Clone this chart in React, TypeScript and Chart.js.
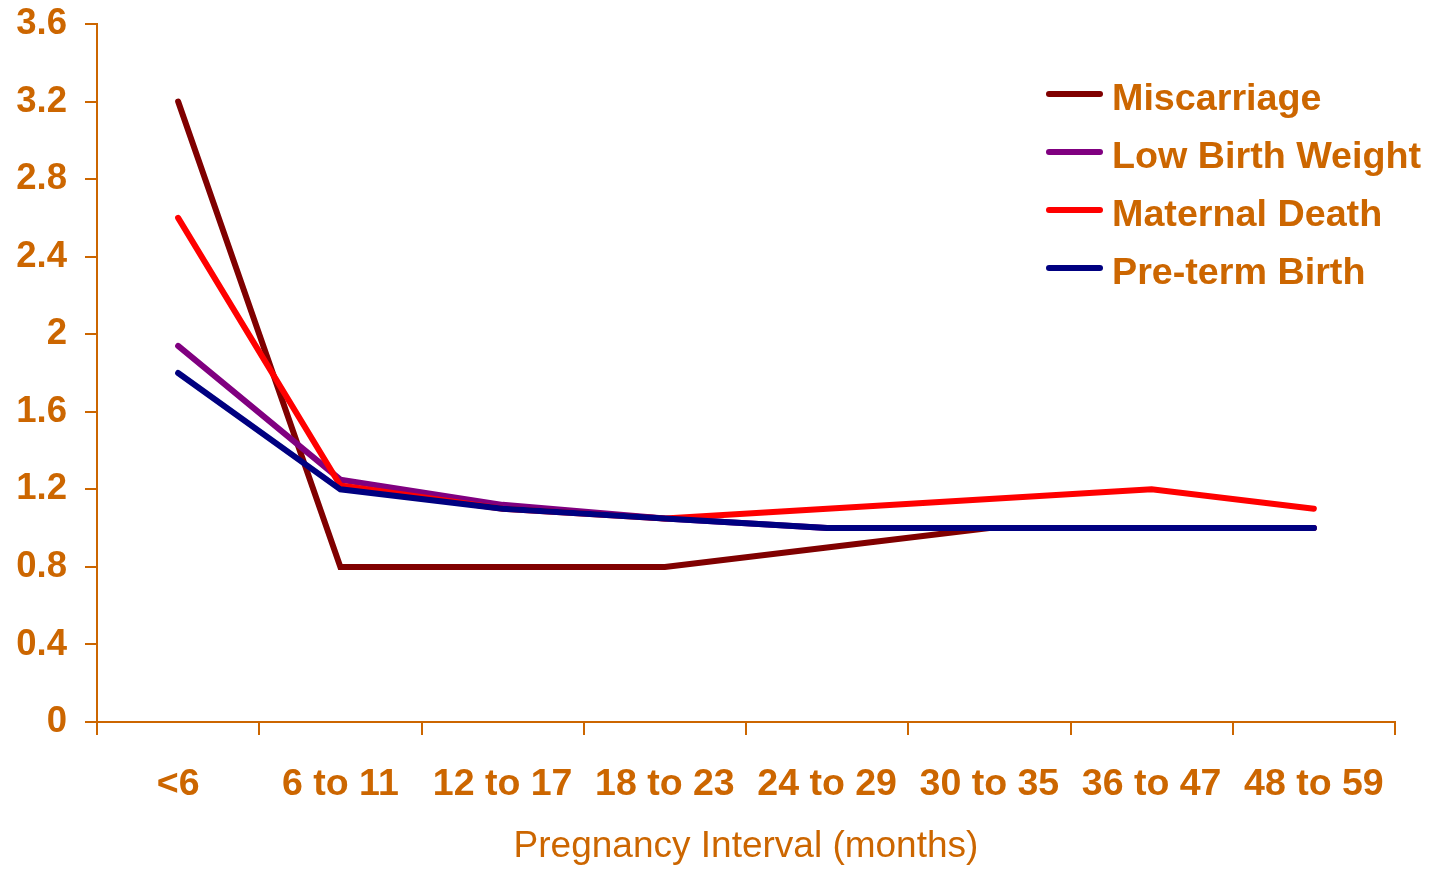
import React, { useEffect, useRef } from "react";
import { Chart, registerables } from "chart.js";

Chart.register(...registerables);

const categories = ["<6", "6 to 11", "12 to 17", "18 to 23", "24 to 29", "30 to 35", "36 to 47", "48 to 59"];
const miscarriage = [3.2, 0.8, 0.8, 0.8, 0.9, 1.0, 1.0, 1.0];
const lowBirthWeight = [1.94, 1.25, 1.12, 1.05, 1.0, 1.0, 1.0, 1.0];
const maternalDeath = [2.6, 1.22, 1.1, 1.05, 1.1, 1.15, 1.2, 1.1];
const pretermBirth = [1.8, 1.2, 1.1, 1.05, 1.0, 1.0, 1.0, 1.0];
const seriesNames = ["Miscarriage", "Low Birth Weight", "Maternal Death", "Pre-term Birth"];
const seriesColors = ["#800000", "#800080", "#FF0000", "#000080"];
const yTicks = [0, 0.4, 0.8, 1.2, 1.6, 2, 2.4, 2.8, 3.2, 3.6];
const xTitle = "Pregnancy Interval (months)";

const ORANGE = "#CC6600";
const FONT = "'Liberation Sans', Arial, sans-serif";

const legendPlugin = {
  id: "customLegend",
  afterDraw(chart: any) {
    const ctx = chart.ctx;
    ctx.save();
    chart.data.datasets.forEach((ds: any, i: number) => {
      const y = 94 + i * 58;
      ctx.beginPath();
      ctx.strokeStyle = ds.borderColor;
      ctx.lineWidth = 6;
      ctx.lineCap = "round";
      ctx.moveTo(1049, y);
      ctx.lineTo(1100, y);
      ctx.stroke();
      ctx.fillStyle = ORANGE;
      ctx.font = `bold 37.7px ${FONT}`;
      ctx.textBaseline = "alphabetic";
      ctx.textAlign = "left";
      ctx.fillText(ds.label, 1112, y + 16);
    });
    ctx.restore();
  },
};

export default function App() {
  const ref = useRef<HTMLCanvasElement | null>(null);

  useEffect(() => {
    document.body.style.margin = "0";
    const seriesData = [miscarriage, lowBirthWeight, maternalDeath, pretermBirth];
    const drawOrder = [3, 2, 1, 0];
    const chart = new Chart(ref.current as HTMLCanvasElement, {
      type: "line",
      data: {
        labels: categories,
        datasets: seriesData.map((d, i) => ({
          label: seriesNames[i],
          data: d,
          borderColor: seriesColors[i],
          backgroundColor: seriesColors[i],
          borderWidth: 6,
          borderCapStyle: "round" as const,
          borderJoinStyle: "miter" as const,
          pointRadius: 0,
          tension: 0,
          order: drawOrder[i],
        })),
      },
      options: {
        animation: false,
        responsive: false,
        maintainAspectRatio: false,
        layout: { padding: { top: 24, right: 34, left: 0, bottom: 0 } },
        plugins: {
          legend: { display: false },
          tooltip: { enabled: false },
        },
        scales: {
          x: {
            type: "category",
            offset: true,
            grid: {
              offset: true,
              drawOnChartArea: false,
              drawTicks: true,
              tickLength: 13,
              color: ORANGE,
              lineWidth: 2,
            },
            border: { display: true, color: ORANGE, width: 2 },
            ticks: {
              color: ORANGE,
              font: { family: FONT, size: 37.5, weight: "bold" },
              padding: 27,
              maxRotation: 0,
              autoSkip: false,
            },
            title: {
              display: true,
              text: xTitle,
              color: ORANGE,
              font: { family: FONT, size: 37, weight: "normal" },
              padding: { top: 0, bottom: 0 },
            },
            afterFit: (s: any) => {
              s.height = 147;
            },
          },
          y: {
            min: 0,
            max: 3.6,
            grid: {
              drawOnChartArea: false,
              drawTicks: true,
              tickLength: 12,
              color: ORANGE,
              lineWidth: 2,
            },
            border: { display: true, color: ORANGE, width: 2 },
            afterBuildTicks: (s: any) => {
              s.ticks = yTicks.map((v) => ({ value: v }));
            },
            ticks: {
              color: ORANGE,
              font: { family: FONT, size: 36.5, weight: "bold" },
              padding: 18,
              callback: (v: any) => String(Math.round(Number(v) * 10) / 10),
            },
            afterFit: (s: any) => {
              s.width = 97;
              s.paddingTop = 0;
              s.paddingBottom = 0;
            },
          },
        },
      },
      plugins: [legendPlugin],
    });
    return () => chart.destroy();
  }, []);

  return (
    <div style={{ width: 1429, height: 869 }}>
      <canvas ref={ref} width={1429} height={869} />
    </div>
  );
}
